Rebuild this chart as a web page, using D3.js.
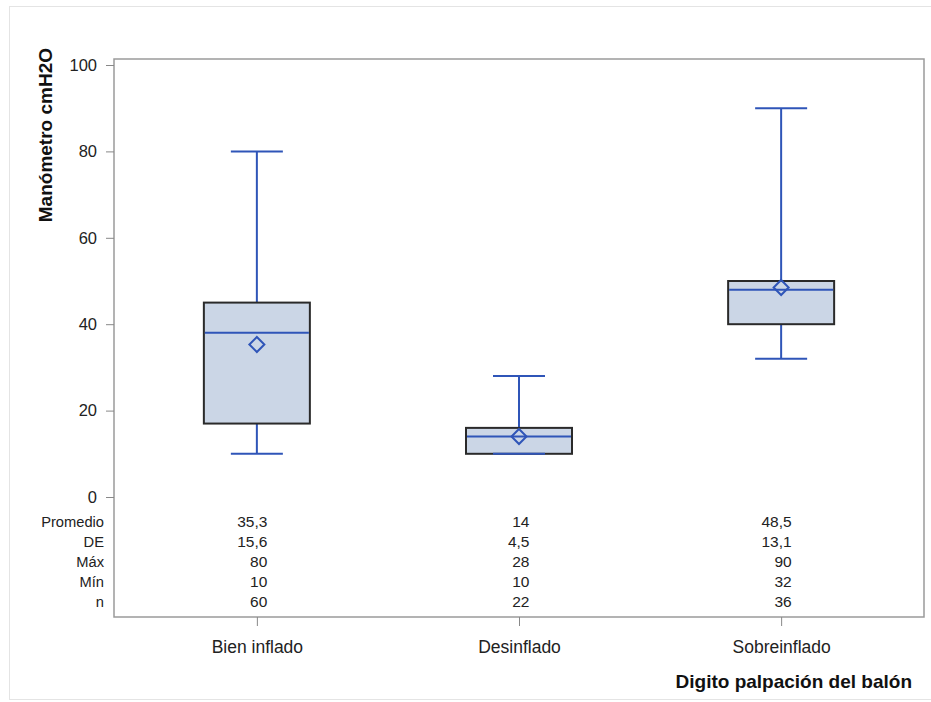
<!DOCTYPE html>
<html><head><meta charset="utf-8">
<script src="https://cdn.jsdelivr.net/npm/d3@7"></script>
<style>body{margin:0;background:#fff}svg{display:block}text{font-family:"Liberation Sans",Arial,sans-serif}</style>
</head><body><svg id="c" width="931" height="702"></svg>
<script>
const categories = ["Bien inflado", "Desinflado", "Sobreinflado"];
const q1 = [17, 10, 40];
const median = [38, 14, 48];
const q3 = [45, 16, 50];
const whiskerLow = [10, 10, 32];
const whiskerHigh = [80, 28, 90];
const means = [35.3, 14, 48.5];
const statLabels = ["Promedio", "DE", "Máx", "Mín", "n"];
const statValues = [
  ["35,3", "15,6", "80", "10", "60"],
  ["14", "4,5", "28", "10", "22"],
  ["48,5", "13,1", "90", "32", "36"]
];
const yTicks = [0, 20, 40, 60, 80, 100];

const svg = d3.select("#c");
const L = 114, R = 924, T = 59, B = 617;
const blue = "#2F55B8";
const FF = '"Liberation Sans",Arial,sans-serif';

// outer frame
svg.append("rect").attr("x", 9.5).attr("y", 6.5).attr("width", 940).attr("height", 693)
  .attr("fill", "none").attr("stroke", "#e4e4e4").attr("stroke-width", 1);

const x = d3.scalePoint().domain(categories).range([L, R]).padding(0.545);
const y = d3.scaleLinear().domain([0, 100]).range([497, 65]);

// plot frame
svg.append("rect").attr("x", L).attr("y", T).attr("width", R - L).attr("height", B - T)
  .attr("fill", "none").attr("stroke", "#9a9a9a").attr("stroke-width", 1.5);

// y axis
const yAxis = d3.axisLeft(y).tickValues(yTicks).tickSize(8).tickPadding(9);
const gy = svg.append("g").attr("transform", `translate(${L},0)`).call(yAxis);
gy.select(".domain").remove();
gy.selectAll(".tick line").attr("stroke", "#888");
gy.selectAll(".tick text").attr("fill", "#222").style("font-size", "16.5px").style("font-family", FF);

// x axis
const xAxis = d3.axisBottom(x).tickSize(9);
const gx = svg.append("g").attr("transform", `translate(0,${B})`).call(xAxis);
gx.select(".domain").remove();
gx.selectAll(".tick line").attr("stroke", "#888");
gx.selectAll(".tick text").attr("y", 36).attr("dy", 0).attr("fill", "#222")
  .style("font-size", "17.5px").style("font-family", FF);

// boxes
const boxW = 106, capW = 52;
const g = svg.append("g");
categories.forEach((c, i) => {
  const cx = x(c);
  g.append("line").attr("x1", cx).attr("x2", cx).attr("y1", y(q3[i])).attr("y2", y(whiskerHigh[i]))
    .attr("stroke", blue).attr("stroke-width", 2);
  g.append("line").attr("x1", cx).attr("x2", cx).attr("y1", y(q1[i])).attr("y2", y(whiskerLow[i]))
    .attr("stroke", blue).attr("stroke-width", 2);
  g.append("line").attr("x1", cx - capW / 2).attr("x2", cx + capW / 2).attr("y1", y(whiskerHigh[i])).attr("y2", y(whiskerHigh[i]))
    .attr("stroke", blue).attr("stroke-width", 2);
  g.append("rect").attr("x", cx - boxW / 2).attr("y", y(q3[i])).attr("width", boxW).attr("height", y(q1[i]) - y(q3[i]))
    .attr("fill", "#cbd6e6").attr("stroke", "#2a2a2a").attr("stroke-width", 2);
  g.append("line").attr("x1", cx - capW / 2).attr("x2", cx + capW / 2).attr("y1", y(whiskerLow[i])).attr("y2", y(whiskerLow[i]))
    .attr("stroke", blue).attr("stroke-width", 2);
  g.append("line").attr("x1", cx - boxW / 2 + 1).attr("x2", cx + boxW / 2 - 1).attr("y1", y(median[i])).attr("y2", y(median[i]))
    .attr("stroke", blue).attr("stroke-width", 2);
  const my = y(means[i]), d = 7.5;
  g.append("path").attr("d", `M${cx},${my - d}L${cx + d},${my}L${cx},${my + d}L${cx - d},${my}Z`)
    .attr("fill", "none").attr("stroke", blue).attr("stroke-width", 2);
});

// stats table
const rowY = [521.5, 541.5, 561.5, 581.5, 601.5];
statLabels.forEach((lab, r) => {
  svg.append("text").attr("x", 104).attr("y", rowY[r]).attr("dy", "0.35em").attr("text-anchor", "end")
    .attr("fill", "#222").style("font-size", "14.7px").text(lab);
});
categories.forEach((c, i) => {
  statValues[i].forEach((v, r) => {
    svg.append("text").attr("x", x(c) + 10.5).attr("y", rowY[r]).attr("dy", "0.35em").attr("text-anchor", "end")
      .attr("fill", "#222").style("font-size", "15.5px").text(v);
  });
});

// axis titles
svg.append("text").attr("transform", "translate(52,48) rotate(-90)").attr("text-anchor", "end")
  .attr("fill", "#111").style("font-size", "19px").style("font-weight", "bold").text("Manómetro cmH2O");
svg.append("text").attr("x", 912).attr("y", 688).attr("text-anchor", "end")
  .attr("fill", "#111").style("font-size", "19px").style("font-weight", "bold").text("Digito palpación del balón");
</script></body></html>
